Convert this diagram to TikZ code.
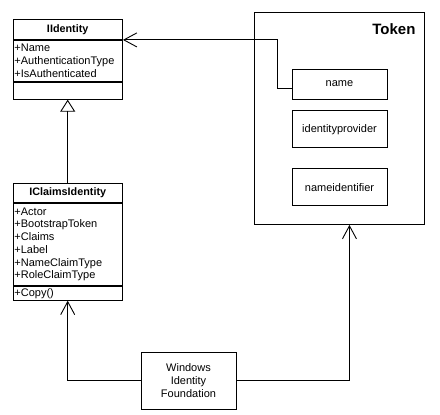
\documentclass[tikz,border=0pt]{standalone}
\usepackage{fontspec}
\setmainfont{Liberation Sans}
\usetikzlibrary{arrows.meta,positioning}

\begin{document}
\begin{tikzpicture}[
  x=1pt,y=-1pt,line width=0.9pt,
  umlhead/.style={draw,anchor=north west,minimum width=109.5pt,inner sep=0pt,font=\fontsize{10.8}{12.7}\selectfont\bfseries},
  umlattr/.style={draw,anchor=north west,text width=106.5pt,inner xsep=1.5pt,inner ysep=0pt,align=left,font=\fontsize{11}{12.7}\selectfont},
  claim/.style={draw,minimum width=95pt,inner sep=0pt,align=center,font=\fontsize{11}{13}\selectfont},
  usearrow/.style={-{Straight Barb[length=13pt,width=14pt]}},
  inherit/.style={-{Triangle[open,length=12pt,width=15pt]}},
]
\useasboundingbox (0,0) rectangle (440,415);

\node[umlhead,minimum height=20pt] (iid) at (12.5,19) {IIdentity};
\node[umlattr,minimum height=41pt] (iidattr) at (iid.south west) {+Name\\+AuthenticationType\\+IsAuthenticated};
\node[umlattr,minimum height=17pt] (iidops) at (iidattr.south west) {};

\node[umlhead,minimum height=19.5pt] (icid) at (12.5,182.5) {IClaimsIdentity};
\node[umlattr,minimum height=82pt] (icidattr) at (icid.south west) {+Actor\\+BootstrapToken\\+Claims\\+Label\\+NameClaimType\\+RoleClaimType};
\node[umlattr,minimum height=14pt] (icidops) at (icidattr.south west) {+Copy()};

\node[draw,anchor=north west,minimum width=170pt,minimum height=212pt,inner sep=0pt] (tok) at (254,12) {};
\node[anchor=north east,inner sep=0pt,font=\fontsize{15}{18}\selectfont\bfseries] (toklbl) at ([xshift=-9pt,yshift=-11pt]tok.north east) {Token};
\node[claim,minimum height=30pt] (nm) at (339.5,84) {name};
\node[claim,minimum height=37pt,below=11pt of nm] (idp) {identityprovider};
\node[claim,minimum height=37pt,below=20pt of idp] (nid) {nameidentifier};

\node[claim,minimum height=57pt] (wif) at (188.5,380.5) {Windows\\Identity\\Foundation};

\draw[inherit] (icid.north) -- (iidops.south);
\draw[usearrow] ([yshift=-4pt]nm.west) -- ++(-14,0) |- (iid.south east);
\draw[usearrow] (wif.west) -| (icidops.south);
\draw[usearrow] (wif.east) -| ([xshift=10pt]tok.south);
\end{tikzpicture}
\end{document}
